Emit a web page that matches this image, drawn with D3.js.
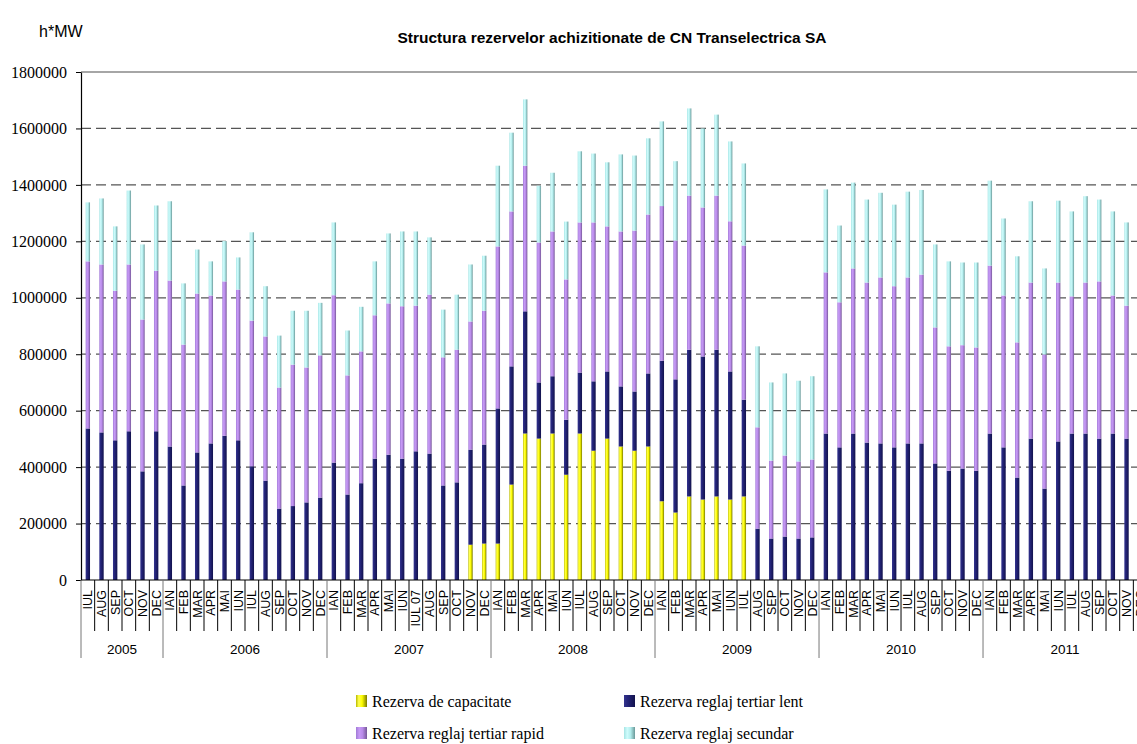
<!DOCTYPE html>
<html><head><meta charset="utf-8">
<script src="https://cdn.jsdelivr.net/npm/d3@7"></script>
<style>body{margin:0;background:#fff}</style>
</head><body><svg id="c" width="1137" height="744"></svg>
<script>
const chartTitle = "Structura rezervelor achizitionate de CN Transelectrica SA";
const unitLabel = "h*MW";
const yearLabels = ["2005","2006","2007","2008","2009","2010","2011"];
const yearCounts = [6,12,12,12,12,12,12];
const monthLabels = [
 "IUL","AUG","SEP","OCT","NOV","DEC",
 "IAN","FEB","MAR","APR","MAI","IUN","IUL","AUG","SEP","OCT","NOV","DEC",
 "IAN","FEB","MAR","APR","MAI","IUN","IUL 07","AUG","SEP","OCT","NOV","DEC",
 "IAN","FEB","MAR","APR","MAI","IUN","IUL","AUG","SEP","OCT","NOV","DEC",
 "IAN","FEB","MAR","APR","MAI","IUN","IUL","AUG","SEP","OCT","NOV","DEC",
 "IAN","FEB","MAR","APR","MAI","IUN","IUL","AUG","SEP","OCT","NOV","DEC",
 "IAN","FEB","MAR","APR","MAI","IUN","IUL","AUG","SEP","OCT","NOV","DEC"];
const seriesNames = ["Rezerva de capacitate","Rezerva reglaj tertiar lent","Rezerva reglaj tertiar rapid","Rezerva reglaj secundar"];
const capacitate = [
 0,0,0,0,0,0,
 0,0,0,0,0,0,0,0,0,0,0,0,
 0,0,0,0,0,0,0,0,0,0,125000,129000,
 129000,338000,519000,501000,519000,373000,519000,458000,501000,473000,458000,473000,
 279000,239000,296000,285000,296000,285000,296000,0,0,0,0,0,
 0,0,0,0,0,0,0,0,0,0,0,0,
 0,0,0,0,0,0,0,0,0,0,0,null];
const tertiarLent = [
 537000,523000,495000,527000,385000,527000,
 473000,335000,452000,484000,511000,495000,403000,352000,253000,262000,275000,292000,
 416000,303000,343000,430000,444000,430000,456000,448000,335000,346000,337000,351000,
 479000,419000,433000,199000,203000,195000,216000,246000,238000,213000,210000,259000,
 498000,472000,520000,507000,520000,454000,343000,182000,147000,154000,147000,151000,
 519000,470000,519000,487000,484000,470000,484000,484000,413000,387000,395000,387000,
 519000,470000,363000,501000,324000,491000,519000,519000,501000,519000,501000,null];
const tertiarRapid = [
 592000,595000,530000,591000,538000,569000,
 588000,499000,563000,524000,547000,534000,516000,511000,429000,501000,478000,504000,
 593000,422000,467000,508000,536000,540000,516000,563000,454000,470000,454000,474000,
 574000,549000,516000,496000,513000,497000,532000,563000,514000,549000,570000,563000,
 548000,492000,546000,528000,546000,532000,546000,359000,276000,287000,273000,276000,
 571000,514000,585000,567000,588000,571000,588000,598000,482000,441000,437000,437000,
 595000,538000,479000,553000,475000,563000,486000,535000,557000,489000,471000,null];
const secundar = [
 209000,234000,228000,262000,266000,231000,
 281000,217000,156000,121000,143000,114000,313000,178000,184000,191000,201000,186000,
 258000,159000,158000,191000,248000,265000,263000,203000,169000,195000,202000,195000,
 286000,279000,235000,201000,208000,205000,252000,244000,227000,273000,266000,270000,
 300000,281000,309000,280000,287000,283000,291000,287000,277000,291000,286000,295000,
 294000,272000,304000,294000,300000,289000,304000,300000,294000,301000,293000,301000,
 301000,273000,305000,288000,305000,290000,301000,306000,290000,298000,295000,null];
const yTicks = [0,200000,400000,600000,800000,1000000,1200000,1400000,1600000,1800000];

(function(){
const keys = ["cap","lent","rapid","sec"];
const rows = monthLabels.map((m,i)=>({i, cap:capacitate[i], lent:tertiarLent[i], rapid:tertiarRapid[i], sec:secundar[i]}));

const svg = d3.select("#c");
const pL = 81, pT = 72, pB = 580, step = 13.667;
const x = d3.scaleBand().domain(d3.range(monthLabels.length))
  .range([pL, pL + step*monthLabels.length]).paddingInner(0.68).paddingOuter(0.34);
const y = d3.scaleLinear().domain([0,1800000]).range([pB, pT]);
const pR = pL + step*monthLabels.length;

const defs = svg.append("defs");
const grads = {
  cap: [["0%","#b8b800"],["25%","#ffff50"],["55%","#ffff00"],["100%","#7a7a00"]],
  lent: [["0%","#34348e"],["30%","#26267c"],["100%","#12124c"]],
  rapid: [["0%","#a07ad6"],["30%","#c79af6"],["60%","#b88ae8"],["100%","#765898"]],
  sec: [["0%","#a6e4e4"],["30%","#cffcfc"],["60%","#b2ecec"],["100%","#6a9898"]]
};
Object.entries(grads).forEach(([k,stops])=>{
  const g = defs.append("linearGradient").attr("id","g_"+k).attr("x1","0").attr("x2","1").attr("y1","0").attr("y2","0");
  stops.forEach(s=>g.append("stop").attr("offset",s[0]).attr("stop-color",s[1]));
});

svg.append("text").attr("x",612).attr("y",43).attr("text-anchor","middle")
  .style("font-family","Arial, 'Liberation Sans', sans-serif").style("font-weight","bold").style("font-size","15.5px")
  .text(chartTitle);
svg.append("text").attr("x",39).attr("y",37)
  .style("font-family","Arial, 'Liberation Sans', sans-serif").style("font-size","16px").text(unitLabel);

yTicks.filter(v=>v>0).forEach(v=>{
  svg.append("line").attr("x1",pL).attr("x2",pR).attr("y1",y(v)).attr("y2",y(v))
    .attr("stroke", v===1800000 ? "#888" : "#555").attr("stroke-width",1.3)
    .attr("stroke-dasharray", v===1800000 ? null : "10,5");
});

const stack = d3.stack().keys(keys).value((d,k)=>d[k]==null?0:d[k]);
const series = stack(rows);
series.forEach(s=>{
  svg.append("g").attr("fill","url(#g_"+s.key+")")
    .selectAll("rect").data(s.filter(d=>d.data[s.key]!=null && d[1]>d[0])).join("rect")
    .attr("x",d=>x(d.data.i)).attr("width",x.bandwidth())
    .attr("y",d=>y(d[1])).attr("height",d=>y(d[0])-y(d[1]));
});

const ya = svg.append("g").attr("transform",`translate(${pL},0)`)
  .call(d3.axisLeft(y).tickValues(yTicks).tickFormat(d3.format("d")).tickSize(5).tickSizeOuter(0).tickPadding(9));
ya.select(".domain").attr("stroke","#000").attr("stroke-width",1.2);
ya.selectAll(".tick line").attr("stroke","#000");
ya.selectAll("text").style("font-family","'Times New Roman', 'Liberation Serif', serif").style("font-size","16px").attr("fill","#000");

const xa = svg.append("g").attr("transform",`translate(0,${pB})`)
  .call(d3.axisBottom(x).tickFormat(i=>monthLabels[i]).tickSize(0).tickSizeOuter(0));
xa.select(".domain").attr("stroke","#000").attr("stroke-width",1.2).attr("d",`M${pL},0H${pR}`);
xa.selectAll("text").attr("transform","rotate(-90)").attr("x",-10).attr("y",4.5).attr("dy",null)
  .attr("text-anchor","end").attr("fill","#000")
  .style("font-family","Arial, 'Liberation Sans', sans-serif").style("font-size","12.5px");

const yearStarts = [];
let acc = 0; yearCounts.forEach(c=>{yearStarts.push(acc); acc += c;});
for (let i=0;i<=monthLabels.length;i++){
  const xx = pL + i*step;
  const isYear = yearStarts.includes(i) || i===monthLabels.length;
  svg.append("line").attr("x1",xx).attr("x2",xx).attr("y1",pB).attr("y2", isYear?658:631)
    .attr("stroke", isYear?"#777":"#000").attr("stroke-width",1);
}
yearLabels.forEach((yl,j)=>{
  const cx = pL + (yearStarts[j] + yearCounts[j]/2)*step;
  svg.append("text").attr("x",cx).attr("y",654).attr("text-anchor","middle")
    .style("font-family","Arial, 'Liberation Sans', sans-serif").style("font-size","13.5px").text(yl);
});

const legPos = [[356,695],[624,695],[356,727],[624,727]];
keys.forEach((k,j)=>{
  const [lx,ly] = legPos[j];
  svg.append("rect").attr("x",lx).attr("y",ly).attr("width",11).attr("height",12).attr("fill","url(#g_"+k+")");
  svg.append("text").attr("x",lx+16).attr("y",ly+12)
    .style("font-family","'Times New Roman', 'Liberation Serif', serif").style("font-size","16px").text(seriesNames[j]);
});
})();
</script></body></html>
